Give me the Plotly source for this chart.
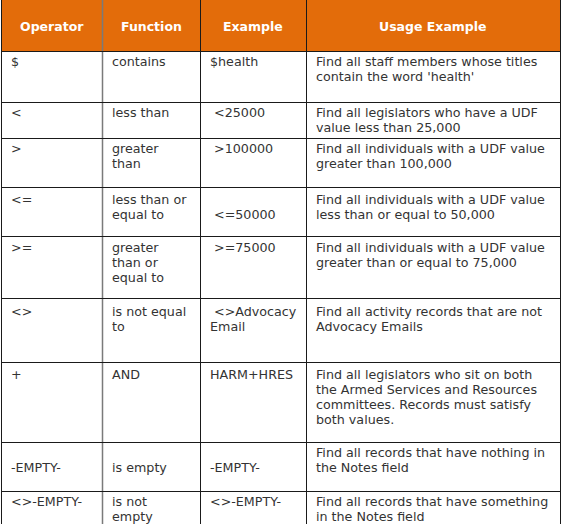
import plotly.graph_objects as go

# table content
headers = ["Operator", "Function", "Example", "Usage Example"]

operators = ["$", "<", ">", "<=", ">=", "<>", "+", "\n-EMPTY-", "<>-EMPTY-"]
functions = ["contains", "less than", "greater\nthan", "less than or\nequal to",
             "greater\nthan or\nequal to", "is not equal\nto", "AND",
             "\nis empty", "is not\nempty"]
examples = ["$health", "\u00a0<25000", "\u00a0>100000", "\n\u00a0<=50000",
            "\u00a0>=75000", "\u00a0<>Advocacy\nEmail", "HARM+HRES",
            "\n-EMPTY-", "<>-EMPTY-"]
usages = ["Find all staff members whose titles\ncontain the word 'health'",
          "Find all legislators who have a UDF\nvalue less than 25,000",
          "Find all individuals with a UDF value\ngreater than 100,000",
          "Find all individuals with a UDF value\nless than or equal to 50,000",
          "Find all individuals with a UDF value\ngreater than or equal to 75,000",
          "Find all activity records that are not\nAdvocacy Emails",
          "Find all legislators who sit on both\nthe Armed Services and Resources\n"
          "committees. Records must satisfy\nboth values.",
          "Find all records that have nothing in\nthe Notes field",
          "Find all records that have something\nin the Notes field"]

columns = [operators, functions, examples, usages]

# layout (pixels)
W, H = 562, 524
col_edges = [1, 102, 200, 306, 560]
header_h = 51
row_tops = [51, 102, 138, 187, 236, 298, 362, 442, 491]
first_line = [10, 10, 10, 12, 11, 13, 12, 10, 10]
line_h = 15
pad_x = 8
orange = "#E36C0A"
txt = "#333333"

fig = go.Figure()

shapes = [dict(type="rect", x0=col_edges[0], x1=col_edges[-1], y0=0, y1=header_h,
               fillcolor=orange, line_width=0, layer="below")]
for i, x in enumerate(col_edges):
    shapes.append(dict(type="line", x0=x + 0.5, x1=x + 0.5, y0=0, y1=H + 5,
                       line=dict(color="#7a7a7a" if i == 1 else "#1a1a1a",
                                 width=1.5 if i == 1 else 1)))
for y in [header_h] + row_tops[1:]:
    shapes.append(dict(type="line", x0=col_edges[0], x1=col_edges[-1] + 1,
                       y0=y + 0.5, y1=y + 0.5, line=dict(color="#1a1a1a", width=1)))

annotations = []
for c, name in enumerate(headers):
    annotations.append(dict(x=(col_edges[c] + col_edges[c + 1]) / 2, y=26, text="<b>%s</b>" % name,
                            showarrow=False, xanchor="center", yanchor="middle",
                            font=dict(family="DejaVu Sans", size=12.5, color="white")))

for c, col in enumerate(columns):
    for r, cell in enumerate(col):
        for j, line in enumerate(cell.split("\n")):
            if not line:
                continue
            annotations.append(dict(x=col_edges[c] + pad_x, y=row_tops[r] + first_line[r] + line_h * j,
                                    text=line, showarrow=False, xanchor="left", yanchor="middle",
                                    font=dict(family="DejaVu Sans", size=12.7, color=txt)))

fig.update_layout(
    width=W, height=H,
    margin=dict(l=0, r=0, t=0, b=0),
    paper_bgcolor="white", plot_bgcolor="white",
    xaxis=dict(range=[0, W], visible=False, fixedrange=True),
    yaxis=dict(range=[H, 0], visible=False, fixedrange=True),
    shapes=shapes, annotations=annotations,
    showlegend=False,
)

# page margin off so the table sits at the window corner
fig.write_html("out.html", config=dict(displayModeBar=False),
               post_script="document.body.style.margin='0';document.body.style.overflow='hidden';")
